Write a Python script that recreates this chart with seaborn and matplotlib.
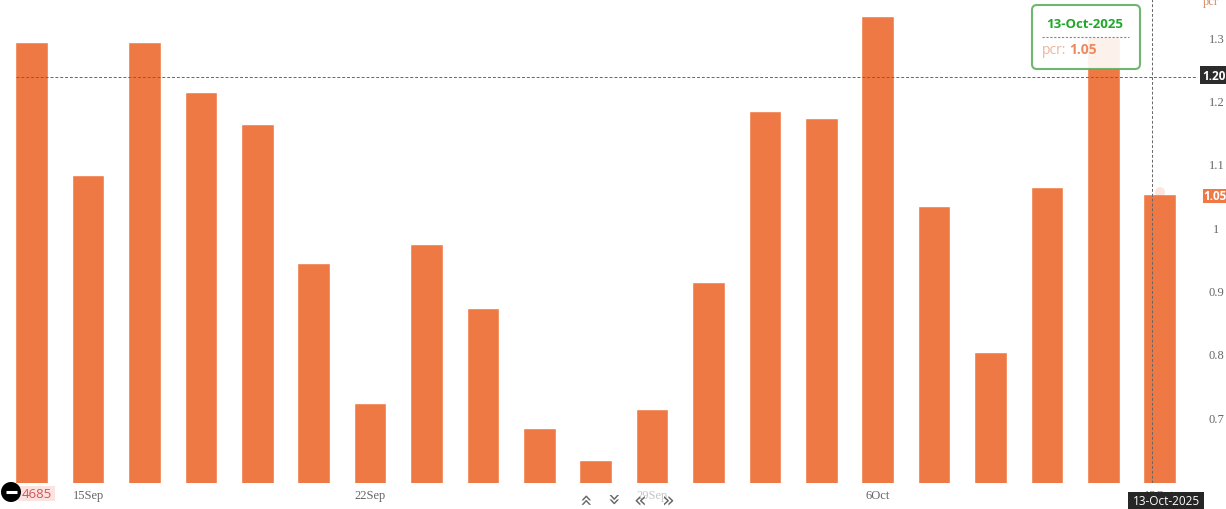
import pandas as pd
import seaborn as sns
import matplotlib.pyplot as plt
from matplotlib.patches import FancyBboxPatch, Circle, Rectangle

dates = ["12Sep", "15Sep", "16Sep", "17Sep", "18Sep", "19Sep", "22Sep", "23Sep", "24Sep", "25Sep", "26Sep",
         "29Sep", "30Sep", "1Oct", "3Oct", "6Oct", "7Oct", "8Oct", "9Oct", "10Oct", "13Oct"]
pcr = [1.292, 1.082, 1.292, 1.213, 1.163, 0.944, 0.723, 0.974, 0.873, 0.683, 0.633,
       0.713, 0.914, 1.183, 1.172, 1.333, 1.033, 0.803, 1.063, 1.30, 1.052]
y_ticks = [0.7, 0.8, 0.9, 1.0, 1.1, 1.2, 1.3]
y_tick_labels = ["0.7", "0.8", "0.9", "1", "1.1", "1.2", "1.3"]
x_labels = ["15Sep", "22Sep", "29Sep", "6Oct", "13Oct"]

ORANGE = "#EF7944"
GREY = "#666666"
W, H = 1226, 510

df = pd.DataFrame({"date": dates, "pcr": pcr})

sns.set_theme(style="white")
plt.rcParams["font.family"] = ["Liberation Serif", "DejaVu Serif"]

fig = plt.figure(figsize=(W / 100, H / 100), dpi=100, facecolor="white")
ax = fig.add_axes([0, (H - 484) / H, 1197 / W, 484 / H])

sns.barplot(data=df, x="date", y="pcr", color=ORANGE, saturation=1, width=0.58, ax=ax)

ax.set_xlim(-0.562, 20.661)
ax.set_ylim(0.596, 1.36)
ax.set_xlabel("")
ax.set_ylabel("")
sns.despine(ax=ax, left=True, bottom=True, right=True, top=True)

ax.yaxis.tick_right()
ax.set_yticks(y_ticks)
ax.set_yticklabels(y_tick_labels, fontsize=9, color=GREY, ha="center")
ax.tick_params(axis="y", length=0, pad=14)
ax.set_xticks([dates.index(d) for d in x_labels])
ax.set_xticklabels(x_labels, fontsize=9, color=GREY)
ax.tick_params(axis="x", length=0, pad=4)
ax.get_xticklabels()[2].set_color("#c4c4c4")

# crosshair
ax.axhline(1.237, xmin=16 / 1197, color="#666666", lw=0.7, ls=(0, (3, 2)))
ax.axvline(19.86, color="#666666", lw=0.7, ls=(0, (3, 2)))

# everything below is chart furniture, placed in pixels
ov = fig.add_axes([0, 0, 1, 1], facecolor="none")
ov.set_xlim(0, W)
ov.set_ylim(H, 0)
ov.axis("off")

ov.add_patch(Circle((1160, 193), 5, color=ORANGE, alpha=0.18, lw=0))

# tooltip
ov.add_patch(FancyBboxPatch((1034, 8), 104, 60, boxstyle="round,pad=2,rounding_size=5",
                            fc="white", ec="#5FB05F", lw=1.5, alpha=0.9))
ov.plot([1042, 1129], [37.5, 37.5], color="#888888", lw=0.8, ls=(0, (2, 1.5)))
ov.text(1085, 25, "13-Oct-2025", color="#1FA82A", fontsize=9.5, fontweight="bold",
        family="Open Sans", ha="center", va="center")
ov.text(1042, 50, "pcr:", color="#EDB49B", fontsize=10, family="Open Sans", va="center")
ov.text(1069, 50, "1.05", color="#EE8A5E", fontsize=10, fontweight="bold",
        family="Open Sans", va="center")

# price tags on the right axis
ov.add_patch(Rectangle((1200, 67), 26, 18, fc="#2B2B2B", lw=0))
ov.text(1214, 76, "1.20", color="white", fontsize=8.5, fontweight="bold",
        family="Open Sans", ha="center", va="center")
ov.add_patch(Rectangle((1203, 190), 23, 14, fc=ORANGE, lw=0))
ov.text(1215, 197, "1.05", color="white", fontsize=8.5, fontweight="bold",
        family="Open Sans", ha="center", va="center")
ov.text(1211, 2, "pcr", color="#D98A60", fontsize=9, ha="center", va="center")

# date tag
ov.add_patch(Rectangle((1128, 493), 76, 17, fc="#262626", lw=0))
ov.text(1166, 501.5, "13-Oct-2025", color="white", fontsize=8.5,
        family="Open Sans", ha="center", va="center")

# bottom left badge
ov.add_patch(Rectangle((18, 487), 37, 15, fc="#FBE3E1", lw=0))
ov.text(37, 494.5, "4685", color="#D9534F", fontsize=9.5, family="Open Sans", ha="center", va="center")
ov.add_patch(Circle((11, 493), 10, fc="black", lw=0))
ov.plot([5.5, 16.5], [493, 493], color="white", lw=2.2, solid_capstyle="butt")

# scroll arrows
for x, ch, rot in [(584, "\u00ab", -90), (612, "\u00bb", -90), (640, "\u00ab", 0), (668, "\u00bb", 0)]:
    ov.text(x, 500, ch, color="#666666", fontsize=15, family="DejaVu Sans",
            rotation=rot, ha="center", va="center")

fig.savefig("out.png", dpi=100)
